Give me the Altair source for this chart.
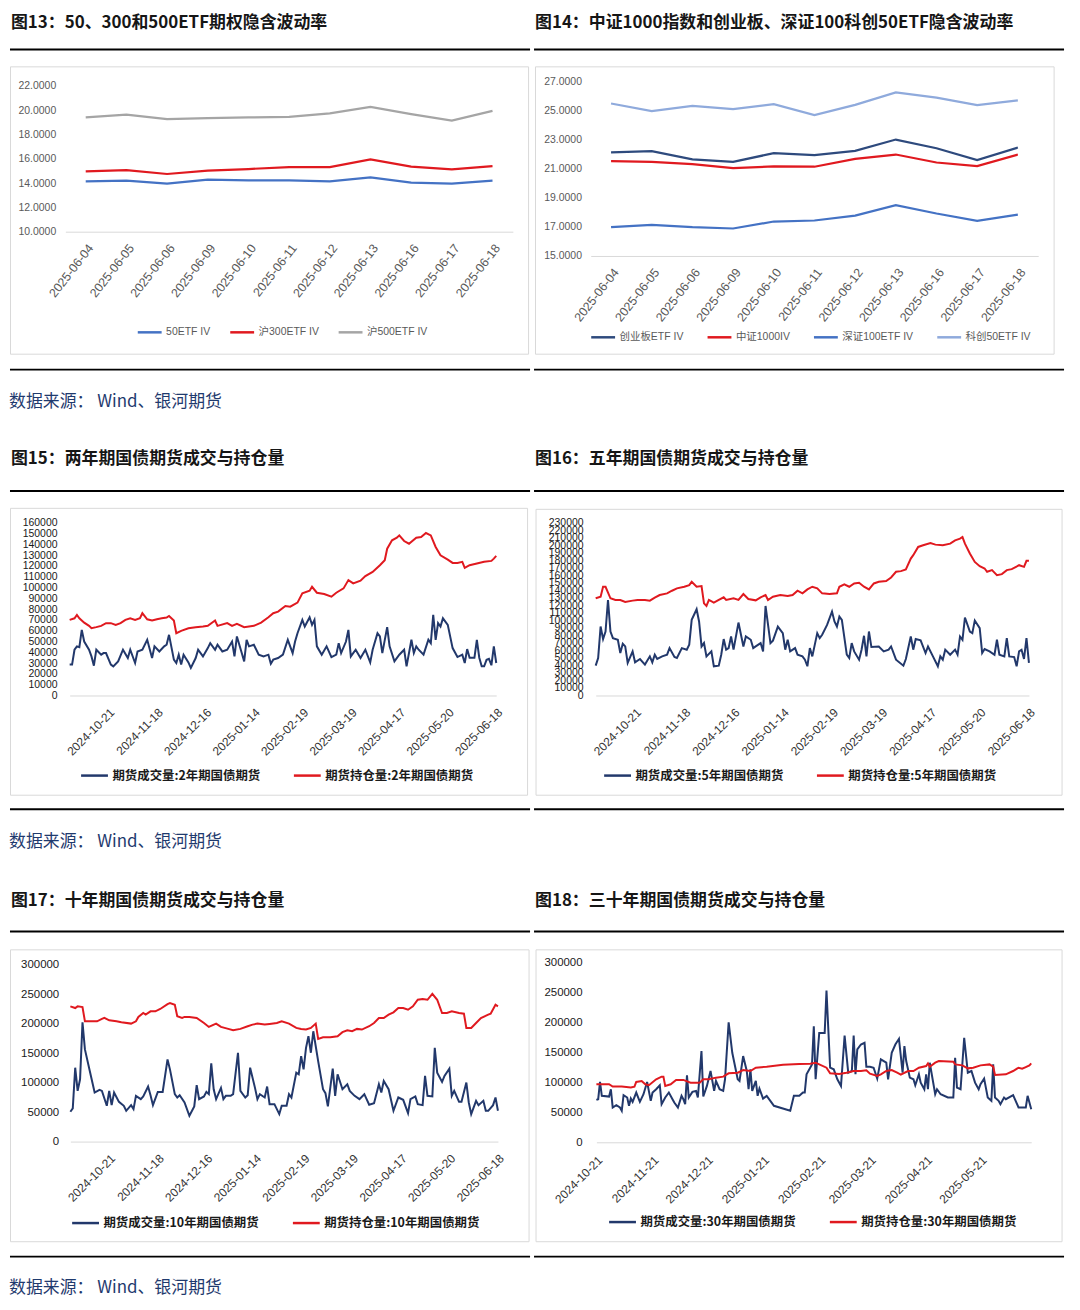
import altair as alt
import pandas as pd

# ---------------- fonts / colours ----------------
FONT_CJK = "Noto Sans CJK SC"
FONT_NARROW = "Liberation Sans, Noto Sans CJK SC"
FONT_SANS = "Liberation Sans, Noto Sans CJK SC"
TITLE_COLOR = "#161616"
SRC_COLOR = "#1f3a6e"
BOX_COLOR = "#d9d9d9"
NAVY = "#22386b"
RED = "#e0191f"

# ---------------- texts ----------------
t13 = "图13：50、300和500ETF期权隐含波动率"
t14 = "图14：中证1000指数和创业板、深证100科创50ETF隐含波动率"
t15 = "图15：两年期国债期货成交与持仓量"
t16 = "图16：五年期国债期货成交与持仓量"
t17 = "图17：十年期国债期货成交与持仓量"
t18 = "图18：三十年期国债期货成交与持仓量"
source_text = "数据来源：   Wind、银河期货"

# ---------------- Fig 13 / 14 data ----------------
iv_dates = ["2025-06-04", "2025-06-05", "2025-06-06", "2025-06-09", "2025-06-10", "2025-06-11",
            "2025-06-12", "2025-06-13", "2025-06-16", "2025-06-17", "2025-06-18"]
names13 = ["50ETF IV", "沪300ETF IV", "沪500ETF IV"]
iv_50 = [14.15, 14.20, 13.95, 14.28, 14.22, 14.22, 14.15, 14.47, 14.04, 13.95, 14.20]
iv_300 = [14.96, 15.07, 14.75, 15.02, 15.16, 15.32, 15.32, 15.95, 15.35, 15.13, 15.40]
iv_500 = [19.41, 19.63, 19.27, 19.35, 19.41, 19.46, 19.74, 20.28, 19.68, 19.14, 19.95]
colors13 = ["#4472c4", RED, "#a5a5a5"]

names14 = ["创业板ETF IV", "中证1000IV", "深证100ETF IV", "科创50ETF IV"]
iv_cyb = [22.12, 22.21, 21.64, 21.48, 22.07, 21.94, 22.23, 23.01, 22.41, 21.59, 22.46]
iv_zz1000 = [21.52, 21.48, 21.32, 21.05, 21.16, 21.14, 21.68, 21.98, 21.43, 21.18, 21.98]
iv_sz100 = [16.98, 17.14, 16.98, 16.89, 17.37, 17.44, 17.78, 18.49, 17.92, 17.42, 17.85]
iv_kc50 = [25.49, 24.97, 25.33, 25.11, 25.45, 24.70, 25.40, 26.25, 25.90, 25.38, 25.70]
colors14 = ["#2e4a7d", RED, "#4472c4", "#8faadc"]

# ---------------- Fig 15-17: trading-day index (0..176) ----------------
tick_idx = [16, 36, 56, 76, 96, 116, 136, 156, 176]
tick_lbl = ["2024-10-21", "2024-11-18", "2024-12-16", "2025-01-14", "2025-02-19",
            "2025-03-19", "2025-04-17", "2025-05-20", "2025-06-18"]

names15 = ["期货成交量:2年期国债期货", "期货持仓量:2年期国债期货"]
vol2 = [(0, 28600), (1, 28600), (2, 42400), (3, 45500), (4, 44800), (5, 60800), (6, 50000), (8, 42400),
        (9, 36200), (10, 27600), (11, 42400), (13, 37800), (14, 39300), (15, 39300), (17, 28600),
        (18, 27000), (20, 31600), (22, 42400), (24, 34700), (25, 42400), (27, 30100), (28, 40800),
        (30, 42400), (32, 51600), (34, 34700), (35, 45500), (37, 40800), (39, 45500), (40, 47000),
        (41, 56200), (43, 33200), (44, 30100), (45, 37800), (46, 28600), (47, 37800), (49, 30700),
        (50, 25500), (52, 34700), (53, 42400), (55, 36200), (57, 43900), (58, 48500), (60, 42400),
        (61, 47000), (63, 40800), (65, 42400), (67, 50000), (68, 36200), (69, 54700), (71, 39300),
        (72, 31600), (73, 51600), (74, 45500), (76, 47000), (78, 37800), (80, 36200), (82, 37800),
        (83, 29500), (84, 33200), (86, 34700), (88, 37800), (90, 51600), (92, 39300), (93, 50000),
        (94, 57700), (96, 70000), (97, 63900), (99, 72500), (100, 65400), (101, 70000), (102, 45500),
        (104, 37800), (106, 45500), (108, 35600), (110, 37800), (111, 48500), (112, 39300),
        (114, 50000), (115, 60800), (116, 36200), (118, 42400), (120, 34700), (122, 42400),
        (124, 30700), (125, 42400), (127, 57700), (128, 54700), (129, 39300), (131, 63300),
        (132, 45500), (134, 31600), (136, 37800), (138, 42400), (139, 27000), (141, 51600),
        (142, 39300), (143, 45500), (144, 42400), (146, 37800), (148, 51600), (149, 48500),
        (150, 74600), (151, 51600), (152, 67000), (153, 63900), (154, 71500), (156, 65400),
        (158, 43900), (160, 35600), (162, 37800), (163, 30100), (164, 43000), (165, 35000),
        (167, 35000), (168, 51600), (169, 35000), (170, 27000), (171, 27000), (172, 33000),
        (173, 34000), (174, 28000), (175, 45500), (176, 30100)]
oi2 = [(0, 70000), (2, 71500), (3, 74600), (4, 71500), (6, 67500), (8, 64500), (9, 62300), (11, 63300),
       (13, 64500), (15, 67000), (17, 67000), (19, 65400), (21, 67000), (23, 70000), (25, 71500),
       (27, 70000), (29, 71500), (30, 76200), (32, 70600), (34, 69400), (36, 70600), (38, 71500),
       (40, 72200), (41, 73700), (43, 69400), (44, 57700), (46, 59900), (49, 62300), (52, 63300),
       (55, 63900), (57, 64500), (60, 69400), (61, 64500), (65, 67000), (67, 64500), (69, 66300),
       (72, 63300), (76, 64500), (79, 67500), (82, 72500), (84, 76200), (86, 77700), (89, 82900),
       (91, 82300), (94, 86000), (96, 94600), (99, 97000), (100, 100700), (102, 95200), (105, 94000),
       (108, 91500), (110, 95200), (113, 99200), (115, 106900), (117, 103800), (120, 106300),
       (122, 110600), (125, 114500), (128, 120700), (130, 125300), (131, 136000), (133, 143700),
       (135, 146200), (136, 148300), (138, 143100), (140, 140600), (143, 146200), (145, 146800),
       (147, 150500), (149, 148300), (151, 137600), (153, 129900), (156, 125900), (158, 122800),
       (160, 122800), (162, 123800), (163, 118200), (165, 120700), (168, 122200), (171, 123800),
       (174, 124700), (175, 126800), (176, 129300)]

names16 = ["期货成交量:5年期国债期货", "期货持仓量:5年期国债期货"]
vol5 = [(0, 39700), (1, 49900), (2, 91800), (3, 75100), (4, 85200), (5, 127200), (6, 85200), (7, 76400),
        (9, 74200), (10, 56500), (11, 68900), (12, 65300), (13, 43300), (15, 58700), (16, 44200),
        (18, 48600), (20, 41100), (22, 52100), (23, 44200), (24, 54300), (25, 48600), (27, 52100),
        (29, 54300), (30, 63100), (32, 51200), (33, 49900), (35, 63100), (37, 60900), (38, 67500),
        (39, 100700), (41, 114800), (42, 98500), (43, 65300), (44, 69800), (45, 52100), (47, 58700),
        (48, 38900), (50, 39700), (51, 54300), (52, 75100), (53, 61000), (54, 63100), (55, 78600),
        (56, 61000), (58, 97100), (60, 65300), (61, 78600), (63, 74200), (64, 63100), (65, 65300),
        (67, 69800), (68, 58700), (69, 119200), (71, 69800), (72, 73000), (74, 91800), (76, 83000),
        (77, 61000), (78, 74200), (79, 58700), (81, 63100), (82, 54300), (84, 52100), (85, 47700),
        (86, 38900), (87, 63100), (88, 52100), (90, 83000), (91, 76400), (92, 80900), (94, 94000),
        (96, 111700), (97, 98500), (98, 91800), (99, 105100), (100, 100700), (102, 54300),
        (103, 49900), (104, 69800), (105, 58700), (107, 47700), (108, 61000), (109, 79500),
        (110, 52100), (111, 85200), (112, 64500), (115, 65300), (117, 58700), (119, 61000),
        (120, 65300), (122, 47700), (125, 39700), (126, 48600), (128, 78600), (129, 61000),
        (130, 75100), (132, 73400), (134, 56500), (135, 65300), (137, 52100), (139, 38900),
        (140, 52100), (141, 47700), (142, 61000), (144, 54300), (146, 61000), (147, 54300),
        (148, 78600), (149, 74200), (150, 103800), (152, 85200), (153, 83000), (154, 99800),
        (156, 89700), (157, 56500), (158, 61800), (160, 58700), (162, 54300), (163, 74200),
        (164, 54300), (166, 52100), (167, 76400), (168, 52100), (170, 51200), (171, 38900),
        (172, 58700), (173, 60900), (174, 48600), (175, 76400), (176, 43300)]
oi5 = [(0, 129400), (2, 131600), (3, 144800), (4, 144800), (6, 129400), (8, 127200), (10, 127200),
       (12, 124500), (15, 126300), (17, 127200), (20, 127200), (22, 126300), (24, 130200),
       (26, 133800), (29, 136000), (31, 139500), (33, 142600), (36, 144800), (38, 147000),
       (39, 151400), (41, 144800), (43, 145700), (44, 122700), (45, 119200), (46, 127200),
       (48, 123600), (50, 127200), (52, 130700), (53, 127200), (56, 129400), (58, 127200),
       (60, 135100), (62, 128500), (65, 126700), (67, 130700), (69, 133800), (70, 127200),
       (72, 131600), (75, 133800), (78, 132500), (80, 133800), (82, 139500), (84, 136000),
       (86, 141300), (88, 144800), (90, 142600), (92, 136000), (95, 135100), (98, 136000),
       (99, 144800), (101, 147900), (103, 144800), (105, 149200), (107, 150100), (109, 144800),
       (111, 141300), (113, 149200), (115, 151400), (118, 152300), (120, 157200), (122, 164700),
       (124, 165600), (126, 167800), (128, 182300), (129, 186800), (131, 197800), (133, 200000),
       (136, 203100), (138, 200900), (141, 200000), (144, 202200), (146, 206600), (148, 208800),
       (149, 211000), (150, 202200), (152, 189000), (154, 177900), (156, 172200), (158, 169100),
       (159, 164700), (161, 166900), (163, 160300), (165, 161600), (167, 166900), (169, 168200),
       (172, 173500), (174, 171300), (175, 179300), (176, 179300)]

names17 = ["期货成交量:10年期国债期货", "期货持仓量:10年期国债期货"]
vol10 = [(0, 50700), (1, 56300), (2, 125500), (3, 86100), (4, 105800), (5, 202600), (6, 156500),
         (8, 119900), (10, 83300), (12, 87800), (13, 86100), (15, 60800), (16, 86100), (17, 61900),
         (18, 83300), (20, 67500), (22, 60800), (23, 52300), (25, 61900), (26, 55200), (27, 77700),
         (29, 72100), (30, 76600), (32, 93400), (33, 78800), (34, 61900), (36, 84400), (38, 84400),
         (40, 139600), (41, 122700), (43, 80500), (44, 74900), (45, 78800), (47, 66400), (49, 43900),
         (51, 59700), (52, 95700), (53, 72100), (55, 76600), (56, 84400), (57, 80500), (58, 132800),
         (59, 88900), (60, 72100), (62, 91200), (63, 72100), (64, 77700), (66, 77700), (67, 80500),
         (69, 150900), (70, 86100), (72, 74900), (73, 78800), (74, 125500), (76, 91200), (77, 72100),
         (78, 80500), (80, 74900), (81, 93400), (82, 63600), (84, 63600), (86, 46700), (87, 60800),
         (89, 60800), (90, 80500), (91, 74900), (93, 117100), (94, 114300), (95, 145200),
         (96, 122700), (97, 159300), (98, 179000), (99, 150900), (100, 187400), (102, 136800),
         (104, 88900), (105, 82200), (106, 59700), (108, 123800), (109, 77700), (110, 114300),
         (112, 88900), (114, 97400), (115, 86100), (117, 77700), (119, 72100), (121, 80500),
         (123, 62500), (125, 65300), (127, 97400), (128, 83300), (129, 103000), (131, 88900),
         (133, 52300), (135, 74900), (137, 70900), (139, 48400), (140, 72100), (142, 76600),
         (143, 63600), (145, 61900), (146, 111500), (147, 77700), (149, 76600), (150, 159300),
         (151, 117100), (153, 101300), (154, 111500), (156, 123800), (157, 77700), (158, 86100),
         (160, 67500), (161, 67500), (163, 100200), (164, 66400), (165, 46700), (167, 69200),
         (168, 61900), (170, 69200), (171, 52300), (172, 52300), (174, 61900), (175, 74900),
         (176, 52300)]
oi10 = [(0, 229700), (2, 226800), (3, 229700), (5, 228500), (6, 204300), (8, 204300), (11, 204300),
        (13, 208300), (14, 210000), (16, 206000), (19, 204300), (21, 202600), (25, 200400),
        (27, 204300), (28, 211700), (30, 218400), (31, 215600), (33, 221200), (35, 221200),
        (37, 225200), (40, 233600), (41, 235300), (43, 232500), (44, 212800), (46, 210000),
        (47, 211700), (49, 211700), (52, 210000), (55, 201500), (57, 194800), (60, 200400),
        (62, 194800), (65, 191400), (67, 189100), (70, 191400), (73, 195900), (75, 198700),
        (77, 200400), (80, 198700), (82, 199800), (85, 201500), (87, 204300), (90, 200400),
        (93, 193100), (95, 191400), (97, 190300), (99, 193100), (101, 200400), (102, 174500),
        (104, 177300), (107, 177300), (110, 179000), (112, 185800), (114, 189100), (116, 187400),
        (118, 191400), (120, 190300), (123, 195900), (125, 201500), (127, 209900), (129, 209900),
        (131, 215600), (133, 219500), (135, 226800), (137, 226800), (139, 224000), (141, 229700),
        (143, 240900), (145, 242000), (147, 240900), (149, 251000), (151, 240900), (153, 218400),
        (155, 218400), (157, 221200), (160, 218400), (162, 217300), (163, 193000), (165, 193000),
        (167, 201500), (169, 209900), (172, 215600), (173, 217300), (175, 232500), (176, 229700)]

# ---------------- Fig 18: calendar days since 2024-10-21 ----------------
tick_day18 = [0, 31, 61, 92, 123, 151, 182, 212]
tick_lbl18 = ["2024-10-21", "2024-11-21", "2024-12-21", "2025-01-21", "2025-02-21",
              "2025-03-21", "2025-04-21", "2025-05-21"]
names18 = ["期货成交量:30年期国债期货", "期货持仓量:30年期国债期货"]
vol30 = [(0, 70700), (1, 71800), (2, 100600), (3, 77400), (7, 76200), (8, 88400), (9, 58000), (11, 61900),
         (13, 58000), (14, 52500), (15, 78500), (17, 74600), (18, 60800), (19, 72900), (20, 67400),
         (22, 82900), (24, 67400), (26, 80100), (28, 100600), (30, 69100), (31, 82900), (33, 88400),
         (35, 95000), (36, 63500), (38, 74600), (40, 82900), (42, 71800), (43, 66300), (45, 58000),
         (47, 77400), (48, 71800), (49, 63500), (50, 111600), (51, 74600), (53, 84000), (55, 85600),
         (56, 74600), (58, 151900), (59, 76200), (61, 93900), (63, 118800), (65, 85600), (66, 102200),
         (68, 88400), (70, 85600), (71, 105000), (73, 200000), (75, 149200), (78, 105000),
         (79, 102200), (81, 143700), (83, 118800), (84, 88400), (85, 121600), (86, 85600),
         (88, 102200), (89, 77400), (90, 89500), (92, 72900), (94, 77400), (96, 69100), (98, 60800),
         (107, 52500), (109, 77400), (112, 77400), (114, 82900), (115, 82900), (116, 113300),
         (119, 129800), (120, 193400), (121, 105000), (123, 182300), (126, 182300), (127, 253000),
         (129, 124300), (131, 121600), (133, 105000), (135, 93900), (137, 177900), (139, 116000),
         (141, 118800), (142, 177900), (143, 113300), (144, 154700), (146, 163000), (148, 165800),
         (149, 126000), (151, 126000), (153, 124300), (155, 106100), (157, 138100), (160, 132600),
         (161, 105000), (163, 149200), (165, 163000), (167, 172400), (169, 116000), (170, 160200),
         (171, 135400), (173, 107700), (175, 105000), (176, 95000), (178, 113300), (179, 99400),
         (181, 88400), (182, 113300), (183, 88400), (184, 132600), (187, 80100), (188, 88400),
         (190, 80100), (194, 74600), (197, 74600), (198, 140900), (199, 91100), (201, 88400),
         (203, 174000), (205, 116000), (207, 118800), (209, 99400), (211, 88400), (212, 96700),
         (214, 106100), (216, 74600), (218, 69100), (219, 129800), (220, 74600), (222, 69100),
         (223, 63500), (225, 74600), (226, 71800), (230, 78500), (233, 58000), (237, 58000),
         (238, 77400), (240, 55200)]
oi30 = [(0, 96700), (3, 96700), (7, 96700), (9, 92800), (14, 92800), (19, 91200), (21, 92800),
        (22, 100600), (25, 102200), (27, 96700), (29, 95000), (33, 105000), (36, 109400),
        (37, 109400), (38, 93900), (41, 96700), (44, 103900), (48, 103900), (52, 99400), (57, 99400),
        (59, 105000), (62, 105000), (66, 107700), (70, 109400), (73, 114900), (78, 116000),
        (81, 120400), (85, 118800), (88, 124300), (94, 126000), (103, 129300), (112, 130400),
        (118, 131000), (121, 132600), (123, 129800), (127, 124300), (129, 114900), (134, 113800),
        (138, 116000), (142, 118800), (146, 118800), (149, 119900), (151, 114300), (155, 110500),
        (157, 113300), (160, 118800), (163, 120400), (166, 116000), (168, 112700), (172, 118800),
        (175, 118800), (178, 124300), (182, 127100), (183, 131500), (184, 125900), (187, 132600),
        (189, 135400), (197, 134300), (198, 129800), (202, 128200), (205, 123200), (208, 124300),
        (212, 128200), (217, 129800), (219, 125900), (220, 112200), (226, 113300), (230, 118800),
        (233, 124300), (235, 122700), (237, 125400), (239, 128200), (240, 131500)]


# ---------------- helpers ----------------
def wide_to_long(x_values, series_lists, names):
    rows = []
    for name, vals in zip(names, series_lists):
        for x, v in zip(x_values, vals):
            rows.append({"x": x, "series": name, "value": v})
    return pd.DataFrame(rows)


def pairs_to_long(pair_lists, names):
    rows = []
    for name, pairs in zip(names, pair_lists):
        for x, v in pairs:
            rows.append({"x": x, "series": name, "value": v})
    return pd.DataFrame(rows)


def decorations(title, title_x, title_y, rule_x0, rule_x1, rule_top, rule_bot, box, source_y=None):
    one = pd.DataFrame({"k": [0]})
    base = alt.Chart(one)
    layers = [
        base.mark_rect(fillOpacity=0, stroke=BOX_COLOR, strokeWidth=1).encode(
            x=alt.value(box[0]), x2=alt.value(box[1]), y=alt.value(box[2]), y2=alt.value(box[3])),
        base.mark_rule(color="#000000", strokeWidth=2).encode(
            x=alt.value(rule_x0), x2=alt.value(rule_x1), y=alt.value(rule_top)),
        base.mark_rule(color="#000000", strokeWidth=2).encode(
            x=alt.value(rule_x0), x2=alt.value(rule_x1), y=alt.value(rule_bot)),
        base.mark_text(align="left", baseline="middle", font=FONT_CJK, fontSize=17,
                       fontWeight="bold", color=TITLE_COLOR).encode(
            x=alt.value(title_x), y=alt.value(title_y), text=alt.value(title)),
    ]
    if source_y is not None:
        layers.append(
            base.mark_text(align="left", baseline="middle", font=FONT_CJK, fontSize=17,
                           color=SRC_COLOR).encode(
                x=alt.value(0), y=alt.value(source_y), text=alt.value(source_text)))
    return layers


def legend(x, y, font, size, color, weight, sym, pad):
    return alt.Legend(title=None, orient="none", legendX=x, legendY=y, direction="horizontal",
                      symbolType="stroke", symbolSize=sym, symbolStrokeWidth=2.5,
                      labelFont=font, labelFontSize=size, labelColor=color, labelFontWeight=weight,
                      columnPadding=pad, labelOffset=3, labelLimit=400)


def y_axis(values, fmt, offset, font, size, color):
    return alt.Axis(values=values, format=fmt, offset=offset, domain=False, ticks=False, tickSize=0,
                    grid=False, labelPadding=3, labelFont=font, labelFontSize=size,
                    labelColor=color, labelOverlap=False, title=None)


def x_axis(offset, font, size, color, angle, pad, values=None, expr=None):
    kw = dict(offset=offset, domain=True, domainColor=BOX_COLOR, domainWidth=1, ticks=False,
              tickSize=0, grid=False, labelAngle=angle, labelAlign="right", labelBaseline="top",
              labelPadding=pad, labelFont=font, labelFontSize=size, labelColor=color,
              labelOverlap=False, labelFlush=False, title=None)
    if values is not None:
        kw["values"] = values
    if expr is not None:
        kw["labelExpr"] = expr
    return alt.Axis(**kw)


# ---------------- row 1: Fig 13 / 14 ----------------
H1, H2, H3 = 424, 440, 430
WL, WR = 524, 540

df13 = wide_to_long(iv_dates, [iv_50, iv_300, iv_500], names13)
line13 = alt.Chart(df13).mark_line(strokeWidth=2.25).encode(
    x=alt.X("x:N", sort=None,
            scale=alt.Scale(type="point", range=[56.7, 506.7], padding=0.5),
            axis=x_axis(-(H1 - 220.3), FONT_SANS, 12.5, "#595959", -52, 10)),
    y=alt.Y("value:Q", scale=alt.Scale(domain=[10, 22], range=[220.3, 73.7], nice=False, zero=False),
            axis=y_axis([10, 12, 14, 16, 18, 20, 22], ".4f", -50, FONT_NARROW, 10.5, "#595959")),
    color=alt.Color("series:N", scale=alt.Scale(domain=names13, range=colors13),
                    legend=legend(128, 308, FONT_NARROW, 10.5, "#595959", "normal", 576, 14)),
)
p13 = alt.layer(*decorations(t13, 2, 10.5, 1, WL, 37, 359, (1.5, 522.5, 54.5, 343.5), 392),
                line13).properties(width=WL, height=H1)

df14 = wide_to_long(iv_dates, [iv_cyb, iv_zz1000, iv_sz100, iv_kc50], names14)
line14 = alt.Chart(df14).mark_line(strokeWidth=2.25).encode(
    x=alt.X("x:N", sort=None,
            scale=alt.Scale(type="point", range=[57, 507], padding=0.5),
            axis=x_axis(-(H1 - 244.7), FONT_SANS, 12.5, "#595959", -52, 10)),
    y=alt.Y("value:Q", scale=alt.Scale(domain=[15, 27], range=[244.7, 69.3], nice=False, zero=False),
            axis=y_axis([15, 17, 19, 21, 23, 25, 27], ".4f", -50.7, FONT_NARROW, 10.5, "#595959")),
    color=alt.Color("series:N", scale=alt.Scale(domain=names14, range=colors14),
                    legend=legend(56, 313, FONT_NARROW, 10.5, "#595959", "normal", 576, 18)),
)
p14 = alt.layer(*decorations(t14, 1, 10.5, 0, 533, 37, 359, (1.5, 523, 54.5, 343.5)),
                line14).properties(width=WR, height=H1)

# ---------------- rows 2/3: bond futures ----------------
expr_idx = "[" + ",".join("'%s'" % s for s in tick_lbl) + "][(datum.value - 16) / 20]"
arr18 = "[" + ",".join(str(d) for d in tick_day18) + "]"
expr_18 = "[" + ",".join("'%s'" % s for s in tick_lbl18) + "][indexof(" + arr18 + ", datum.value)]"


def bond_lines(df, names, xr, xdomain, yr, ydomain, ystep, H, yoff, ylsize, xticks, xexpr, xpad,
               lx, ly):
    return alt.Chart(df).mark_line(strokeWidth=2).encode(
        x=alt.X("x:Q", scale=alt.Scale(domain=xdomain, range=xr, nice=False, zero=False),
                axis=x_axis(-(H - yr[0]), FONT_SANS, 12, "#333333", -45, xpad, xticks, xexpr)),
        y=alt.Y("value:Q", scale=alt.Scale(domain=ydomain, range=yr, nice=False, zero=False),
                axis=y_axis(list(range(ydomain[0], ydomain[1] + 1, ystep)), "d", yoff,
                            FONT_NARROW, ylsize, "#1a1a1a")),
        color=alt.Color("series:N", scale=alt.Scale(domain=names, range=[NAVY, RED]),
                        legend=legend(lx, ly, FONT_CJK, 12.5, "#1a1a1a", "bold", 729, 28)),
    )


df15 = pairs_to_long([vol2, oi2], names15)
p15 = alt.layer(*decorations(t15, 2, 23, 1, WL, 55, 375, (1.5, 521.5, 72.5, 361), 408),
                bond_lines(df15, names15, [61, 490], [0, 176], [260.7, 87], [0, 160000], 10000, H2,
                           -51.3, 10.5, tick_idx, expr_idx, 11, 71, 326)).properties(width=WL, height=H2)

df16 = pairs_to_long([vol5, oi5], names16)
p16 = alt.layer(*decorations(t16, 1, 23, 0, 533, 55, 375, (2, 531, 73.5, 361)),
                bond_lines(df16, names16, [62, 497.7], [0, 176], [260.7, 87], [0, 230000], 10000, H2,
                           -52.3, 10.5, tick_idx, expr_idx, 11, 69, 326)).properties(width=WR, height=H2)

df17 = pairs_to_long([vol10, oi10], names17)
p17 = alt.layer(*decorations(t17, 2, 25, 1, WL, 56, 383, (1.5, 523, 74.5, 368), 415),
                bond_lines(df17, names17, [61.7, 491.7], [0, 176], [267.3, 89.7], [0, 300000], 50000, H3,
                           -53, 11.5, tick_idx, expr_idx, 11, 62, 334)).properties(width=WL, height=H3)

df18 = pairs_to_long([vol30, oi30], names18)
p18 = alt.layer(*decorations(t18, 1, 25, 0, 533, 56, 383, (2, 531, 74.5, 368)),
                bond_lines(df18, names18, [62.7, 500], [0, 240], [268, 87], [0, 300000], 50000, H3,
                           -51.3, 11.5, tick_day18, expr_18, 12, 74, 333)).properties(width=WR, height=H3)

row1 = alt.hconcat(p13, p14, spacing=0).resolve_scale(color="independent").resolve_legend(
    color="independent")
row2 = alt.hconcat(p15, p16, spacing=0).resolve_scale(color="independent").resolve_legend(
    color="independent")
row3 = alt.hconcat(p17, p18, spacing=0).resolve_scale(color="independent").resolve_legend(
    color="independent")

chart = alt.vconcat(row1, row2, row3, spacing=0).resolve_scale(color="independent").resolve_legend(
    color="independent").properties(padding=0).configure_view(stroke="transparent")

chart.save("out.html", embed_options={"renderer": "svg", "actions": False})
